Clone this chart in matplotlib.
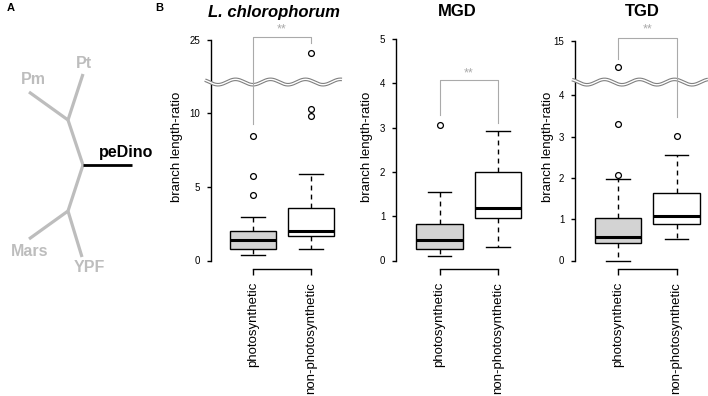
import numpy as np
import matplotlib
matplotlib.use('Agg')
import matplotlib.pyplot as plt

plt.rcParams['font.family'] = ['Liberation Sans', 'DejaVu Sans']

W, H = 708, 396

groups = ['photosynthetic', 'non-photosynthetic']
titles = ['L. chlorophorum', 'MGD', 'TGD']

# box stats: whislo, q1, med, q3, whishi
lchl_photo = [0.34, 0.75, 1.41, 2.02, 2.95]
lchl_nonphoto = [0.75, 1.64, 2.02, 3.57, 5.88]
lchl_out_photo = [4.41, 5.73, 8.46]
lchl_out_nonphoto = [9.8, 10.3, 24.1]

mgd_photo = [0.10, 0.26, 0.46, 0.82, 1.55]
mgd_nonphoto = [0.30, 0.95, 1.19, 2.00, 2.93]
mgd_out_photo = [3.05]
mgd_out_nonphoto = []

tgd_photo = [0.00, 0.42, 0.56, 1.04, 1.97]
tgd_nonphoto = [0.51, 0.88, 1.07, 1.64, 2.55]
tgd_out_photo = [2.07, 3.30, 14.37]
tgd_out_nonphoto = [3.02]

# y ticks and axis gaps (lower, upper) for broken axes
lchl_ticks = [0, 5, 10, 25]
mgd_ticks = [0, 1, 2, 3, 4, 5]
tgd_ticks = [0, 1, 2, 3, 4, 15]
lchl_gap = (12.1, 22.15)
tgd_gap = (4.32, 14.0)

# significance brackets: top, left arm end, right arm end, star height
lchl_sig = [25.2, 9.25, 24.8, 25.74]
mgd_sig = [4.07, 3.28, 3.10, 4.23]
tgd_sig = [15.07, 14.56, 3.47, 15.27]

# tree in panel A (pixel-like units)
tree_nodes = {'c': (83, 165), 'u': (68, 120), 'l': (68, 211),
              'Pt': (83, 74), 'Pm': (29, 92), 'Mars': (29, 239),
              'YPF': (82, 257), 'peDino': (132, 165)}
tree_edges = [('c', 'u'), ('u', 'Pt'), ('u', 'Pm'), ('c', 'l'),
              ('l', 'Mars'), ('l', 'YPF')]
tree_labels = {'Pt': (84, 63), 'Pm': (33, 80), 'Mars': (30, 252),
               'YPF': (89, 267)}

fig = plt.figure(figsize=(W / 100, H / 100), dpi=100)

# ---- panel A ----
ax0 = fig.add_axes([0, 0, 150 / W, 1])
ax0.set_xlim(0, 150)
ax0.set_ylim(H, 0)
ax0.axis('off')
for a, b in tree_edges:
    xa, ya = tree_nodes[a]
    xb, yb = tree_nodes[b]
    ax0.plot([xa, xb], [ya, yb], color='#bdbdbd', lw=2.3,
             solid_capstyle='butt')
ax0.plot([tree_nodes['c'][0], tree_nodes['peDino'][0]],
         [tree_nodes['c'][1], tree_nodes['peDino'][1]], color='black', lw=2.0,
         solid_capstyle='butt')
for name, (x, y) in tree_labels.items():
    ax0.text(x, y, name, color='#bdbdbd', fontsize=11.5, fontweight='bold',
             ha='center', va='center')
ax0.text(99, 152, 'peDino', color='black', fontsize=11.5, fontweight='bold',
         ha='left', va='center')

fig.text(7 / W, 1 - 8 / H, 'A', fontsize=8, fontweight='bold', ha='left', va='center')
fig.text(155 / W, 1 - 8 / H, 'B', fontsize=8, fontweight='bold', ha='left', va='center')


def gap_funcs(g1, g2):
    d = g2 - g1

    def fwd(y):
        y = np.asarray(y, dtype=float)
        return np.where(y <= g1, y, np.where(y >= g2, y - d, g1))

    def inv(t):
        t = np.asarray(t, dtype=float)
        return np.where(t <= g1, t, t + d)
    return fwd, inv


panels = [
    dict(title=titles[0], tx=274, left=211, right=345, c1=253, c2=311,
         y0=260.5, ppu=14.75, ticks=lchl_ticks, gap=lchl_gap, sig=lchl_sig,
         boxes=[lchl_photo, lchl_nonphoto],
         fliers=[lchl_out_photo, lchl_out_nonphoto],
         wave=(205, 342, 253), ylab=177),
    dict(title=titles[1], tx=457, left=396, right=530, c1=439.5, c2=498,
         y0=260.5, ppu=44.3, ticks=mgd_ticks, gap=None, sig=mgd_sig,
         boxes=[mgd_photo, mgd_nonphoto],
         fliers=[mgd_out_photo, mgd_out_nonphoto],
         wave=None, ylab=367),
    dict(title=titles[2], tx=642, left=575, right=705, c1=618, c2=676.5,
         y0=260.5, ppu=41.3, ticks=tgd_ticks, gap=tgd_gap, sig=tgd_sig,
         boxes=[tgd_photo, tgd_nonphoto],
         fliers=[tgd_out_photo, tgd_out_nonphoto],
         wave=(572, 708, 622), ylab=548),
]

top_px, bot_px = 20, 269
for p in panels:
    ax = fig.add_axes([p['left'] / W, 1 - bot_px / H,
                       (p['right'] - p['left']) / W, (bot_px - top_px) / H])
    step = p['c2'] - p['c1']
    ax.set_xlim(1 - (p['c1'] - p['left']) / step, 2 + (p['right'] - p['c2']) / step)
    t_lo = -(bot_px - p['y0']) / p['ppu']
    t_hi = (p['y0'] - top_px) / p['ppu']
    if p['gap'] is not None:
        fwd, inv = gap_funcs(*p['gap'])
        ax.set_yscale('function', functions=(fwd, inv))
        ax.set_ylim(float(inv(t_lo)), float(inv(t_hi)))
    else:
        ax.set_ylim(t_lo, t_hi)

    stats = []
    for b, fl in zip(p['boxes'], p['fliers']):
        stats.append(dict(whislo=b[0], q1=b[1], med=b[2], q3=b[3],
                          whishi=b[4], fliers=fl))
    bp = ax.bxp(stats, positions=[1, 2], widths=0.8, capwidths=0.4,
                patch_artist=True,
                boxprops=dict(edgecolor='black', linewidth=1.0),
                whiskerprops=dict(color='black', linewidth=1.0,
                                  linestyle=(0, (3.5, 3))),
                capprops=dict(color='black', linewidth=1.0),
                medianprops=dict(color='black', linewidth=2.2,
                                 solid_capstyle='butt'),
                flierprops=dict(marker='o', markerfacecolor='none',
                                markeredgecolor='black', markersize=4.2,
                                markeredgewidth=0.9))
    for patch, fc in zip(bp['boxes'], ['#d3d3d3', 'white']):
        patch.set_facecolor(fc)

    for s in ['top', 'right']:
        ax.spines[s].set_visible(False)
    ax.spines['left'].set_bounds(p['ticks'][0], p['ticks'][-1])
    ax.spines['bottom'].set_bounds(1, 2)
    for s in ['left', 'bottom']:
        ax.spines[s].set_linewidth(1.0)
    ax.set_yticks(p['ticks'])
    ax.set_yticklabels([str(t) for t in p['ticks']])
    ax.set_xticks([1, 2])
    ax.set_xticklabels(groups, rotation=90)
    ax.tick_params(axis='y', length=3.2, width=1.0, pad=4.5, labelsize=7)
    ax.tick_params(axis='x', length=4.3, width=1.0, pad=5, labelsize=9.5)
    ax.minorticks_off()

    ax.set_ylabel('branch length-ratio', fontsize=9.5)
    ax.yaxis.label.set_va('center')
    ax.yaxis.set_label_coords((p['ylab'] - p['left']) / (p['right'] - p['left']),
                              (bot_px - 147) / (bot_px - top_px))

    # broken-axis wave
    if p['wave'] is not None:
        x0, x1, trough = p['wave']
        xs = np.linspace(x0, x1, 300)
        gap_px = p['y0'] - p['gap'][0] * p['ppu']
        ys = gap_px - 2.7 * np.cos(2 * np.pi * (xs - trough) / 35.0 + np.pi)
        xf = (xs - p['left']) / (p['right'] - p['left'])
        yf = (bot_px - ys) / (bot_px - top_px)
        ax.plot(xf, yf, transform=ax.transAxes, color='#808080', lw=2.6,
                clip_on=False, zorder=5, solid_capstyle='butt')
        ax.plot(xf, yf, transform=ax.transAxes, color='white', lw=1.0,
                clip_on=False, zorder=6, solid_capstyle='butt')

    top, la, ra, sy = p['sig']
    ax.plot([1, 1, 2, 2], [la, top, top, ra], color='#aaaaaa', lw=0.8,
            clip_on=False, zorder=7)
    ax.text(1.5, sy, '**', color='#aaaaaa', fontsize=9, ha='center',
            va='center')

    fig.text(p['tx'] / W, 1 - 12 / H, p['title'], fontsize=12,
             fontweight='bold', ha='center', va='center',
             fontstyle='italic' if p['title'].startswith('L.') else 'normal')

fig.savefig('out.png', dpi=100)
